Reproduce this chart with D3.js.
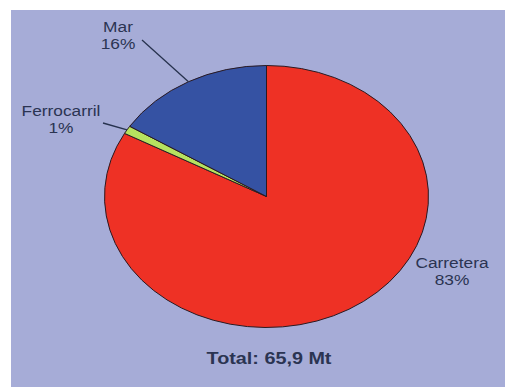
<!DOCTYPE html>
<html><head><meta charset="utf-8">
<script src="https://cdn.jsdelivr.net/npm/d3@7"></script>
<style>html,body{margin:0;padding:0;background:#fff;}svg{display:block;}</style>
</head><body>
<svg id="c" width="506" height="387"></svg>
<script>
const categories = ["Carretera", "Ferrocarril", "Mar"];
const values = [83, 1, 16];
const colors = ["#ee3125", "#b6e25f", "#3552a3"];
const totalLabel = "Total: 65,9 Mt";

const W = 506, H = 387;
const cx = 266.5, cy = 196.5, rx = 162, ry = 131;
const sx = rx / ry;
// label layout: [leader end x, y, text center x, first baseline y] in page px
const labelLayout = [
  {lx: null, ly: null, tx: 452, ty: 268},
  {lx: 103, ly: 123, tx: 61, ty: 116},
  {lx: 142, ly: 40, tx: 118, ty: 32}
];

const svg = d3.select("#c");
svg.append("rect").attr("x", 11).attr("y", 10).attr("width", 494).attr("height", 377).attr("fill", "#a6acd7");

const g = svg.append("g").attr("transform", `translate(${cx},${cy}) scale(${sx},1)`);
const pie = d3.pie().sort(null).value(d => d.v);
const arcs = pie(categories.map((c, i) => ({c, v: values[i], col: colors[i]})));
const arc = d3.arc().innerRadius(0).outerRadius(ry);

g.selectAll("path.s").data(arcs).join("path")
  .attr("class", "s")
  .attr("d", arc)
  .attr("fill", d => d.data.col)
  .attr("stroke", "#2a1a22")
  .attr("stroke-width", 1)
  .attr("vector-effect", "non-scaling-stroke");

const fx = x => (x - cx) / sx;
const fy = y => y - cy;

arcs.forEach((d, i) => {
  const L = labelLayout[i];
  const mid = (d.startAngle + d.endAngle) / 2;
  if (L.lx !== null) {
    const ex = Math.sin(mid) * ry, ey = -Math.cos(mid) * ry;
    g.append("line").attr("x1", ex).attr("y1", ey)
      .attr("x2", fx(L.lx)).attr("y2", fy(L.ly))
      .attr("stroke", "#27324e").attr("stroke-width", 1.3)
      .attr("vector-effect", "non-scaling-stroke");
  }
  const t = g.append("text").attr("text-anchor", "middle")
    .attr("font-family", "Liberation Sans, Arial, sans-serif")
    .attr("font-size", 14).attr("fill", "#2b3452");
  t.append("tspan").attr("x", fx(L.tx)).attr("y", fy(L.ty)).text(d.data.c);
  t.append("tspan").attr("x", fx(L.tx)).attr("y", fy(L.ty + 17)).text(d3.format(".0f")(d.data.v) + "%");
});

g.append("text").attr("text-anchor", "middle")
  .attr("x", fx(269)).attr("y", fy(364))
  .attr("font-family", "Liberation Sans, Arial, sans-serif")
  .attr("font-size", 16).attr("font-weight", "bold").attr("fill", "#2b3452")
  .text(totalLabel);
</script>
</body></html>
